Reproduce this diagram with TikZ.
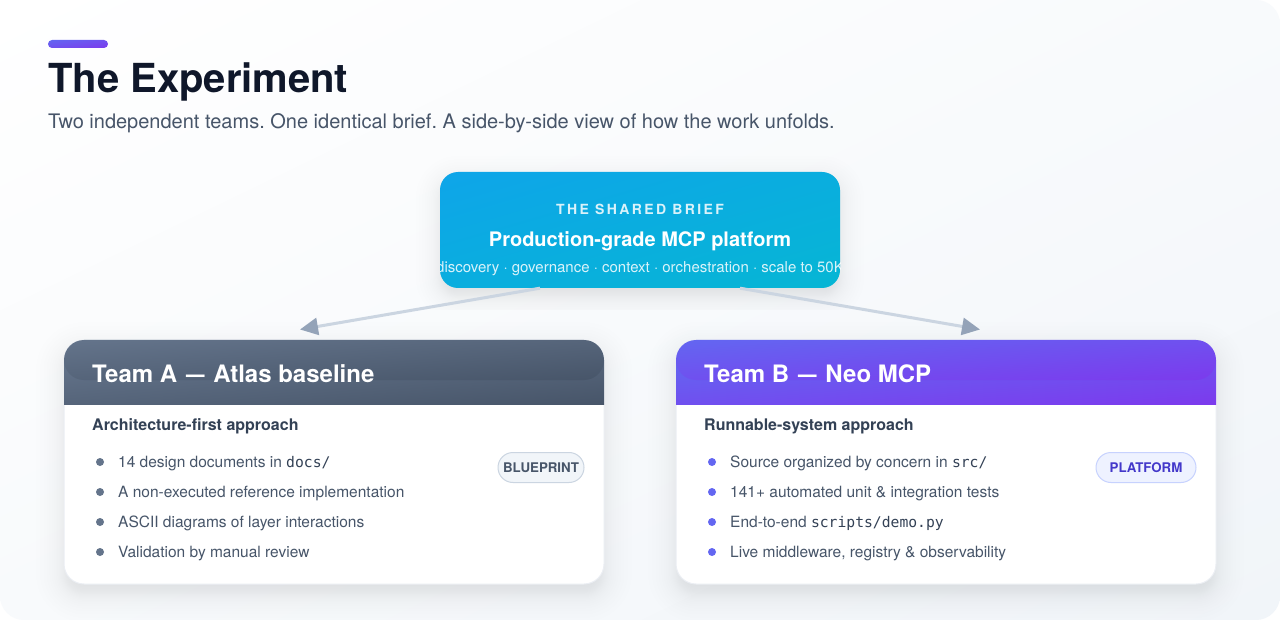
\documentclass[tikz,border=0pt]{standalone}
\usepackage{fontspec}
\usepackage{graphicx}
\setmainfont{TeX Gyre Heros}
\setmonofont{DejaVu Sans Mono}
\newfontfamily\spacedfont[LetterSpace=17]{TeX Gyre Heros}
\usetikzlibrary{arrows.meta,calc}
\frenchspacing
\definecolor{cbgA}{HTML}{FFFFFF}
\definecolor{cbgB}{HTML}{F1F5F9}
\definecolor{cinkA}{HTML}{0F172A}
\definecolor{cinkB}{HTML}{475569}
\definecolor{cinkC}{HTML}{334155}
\definecolor{cskyA}{HTML}{0EA5E9}
\definecolor{cskyB}{HTML}{06B6D4}
\definecolor{cslateA}{HTML}{64748B}
\definecolor{cslateB}{HTML}{475569}
\definecolor{cvioA}{HTML}{6366F1}
\definecolor{cvioB}{HTML}{7C3AED}
\definecolor{cline}{HTML}{CBD5E1}
\definecolor{ctip}{HTML}{94A3B8}
\definecolor{cedge}{HTML}{EBEEF3}
\definecolor{cbadgeA}{HTML}{F1F5F9}
\definecolor{cbadgeB}{HTML}{EEF2FF}
\definecolor{cbadgeBedge}{HTML}{C7D2FE}
\definecolor{cbadgeBtext}{HTML}{4338CA}
% shadings 150bp wide; the stops span the diagonal of a 100bp square turned by 45 degrees
\pgfdeclarehorizontalshading{gbg}{150bp}{color(0bp)=(cbgA); color(4.29bp)=(cbgA); color(145.71bp)=(cbgB); color(150bp)=(cbgB)}
\pgfdeclarehorizontalshading{gsky}{150bp}{color(0bp)=(cskyA); color(4.29bp)=(cskyA); color(145.71bp)=(cskyB); color(150bp)=(cskyB)}
\pgfdeclarehorizontalshading{gslate}{150bp}{color(0bp)=(cslateA); color(4.29bp)=(cslateA); color(145.71bp)=(cslateB); color(150bp)=(cslateB)}
\pgfdeclarehorizontalshading{gvio}{150bp}{color(0bp)=(cvioA); color(4.29bp)=(cvioA); color(145.71bp)=(cvioB); color(150bp)=(cvioB)}
% bounding-box diagonal gradient: x0,y0,x1,y1,radius,shading
\newcommand{\diagfill}[6]{%
  \begin{scope}
    \clip[rounded corners=#5pt] (#1,#2) rectangle (#3,#4);
    \pgfmathsetmacro{\cx}{(#1+#3)/2}%
    \pgfmathsetmacro{\cy}{(#2+#4)/2}%
    \pgfmathsetmacro{\sx}{(#3-#1)*0.0099626}%
    \pgfmathsetmacro{\sy}{(#4-#2)*0.0099626}%
    \pgftransformshift{\pgfpointxy{\cx}{\cy}}%
    \pgftransformxscale{\sx}%
    \pgftransformyscale{\sy}%
    \pgftransformrotate{-45}%
    \pgftext{\pgfuseshading{#6}}%
  \end{scope}%
}
% soft shadow: x0,y0,x1,y1,radius,spread,opacity per layer
\newcommand{\softshadow}[7]{%
  \foreach \k in {1,...,30}{%
    \pgfmathsetmacro{\tt}{1-2*(\k-0.5)/30}%
    \pgfmathsetmacro{\ee}{#6*(0.4*\tt+0.6*\tt*\tt*\tt)}%
    \pgfmathsetmacro{\rr}{max(#5+\ee,2)}%
    \fill[cinkA,opacity=#7,rounded corners=\rr pt]
      (#1-\ee,#2-\ee) rectangle (#3+\ee,#4+\ee);
  }%
}
\tikzset{
  titletext/.style={anchor=base west,inner sep=0,text=cinkA,font=\fontsize{40}{48}\selectfont\bfseries},
  subtext/.style={anchor=base west,inner sep=0,text=cinkB,font=\fontsize{20}{24}\selectfont},
  kicker/.style={anchor=base,inner sep=0,text=white,text opacity=.85,font=\fontsize{14}{17}\selectfont\bfseries\spacedfont},
  brieftitle/.style={anchor=base,inner sep=0,text=white,font=\fontsize{20}{24}\selectfont\bfseries},
  briefsub/.style={anchor=base,inner sep=0,text=white,text opacity=.85,font=\fontsize{15}{18}\selectfont},
  briefbox/.style={rounded corners=18pt,minimum width=400pt,minimum height=116pt,inner sep=0},
  cardbox/.style={fill=white,draw=cedge,line width=1pt,rounded corners=20pt,minimum width=540pt,minimum height=244pt,inner sep=0},
  teamtext/.style={anchor=base west,inner sep=0,text=white,font=\fontsize{24}{29}\selectfont\bfseries},
  headtext/.style={anchor=base west,inner sep=0,text=cinkC,font=\fontsize{16}{19}\selectfont\bfseries},
  itemtext/.style={anchor=base west,inner sep=0,text=cinkB,font=\fontsize{15.5}{18}\selectfont},
  dotA/.style={circle,fill=cslateA,minimum size=8pt,inner sep=0},
  dotB/.style={circle,fill=cvioA,minimum size=8pt,inner sep=0},
  badgeA/.style={draw=cline,fill=cbadgeA,line width=1pt,rounded corners=15pt,minimum width=86pt,minimum height=30pt,inner sep=0,text=cinkB,font=\fontsize{13.3}{16}\selectfont\bfseries},
  badgeB/.style={draw=cbadgeBedge,fill=cbadgeB,line width=1pt,rounded corners=15pt,minimum width=100pt,minimum height=30pt,inner sep=0,text=cbadgeBtext,font=\fontsize{13.3}{16}\selectfont\bfseries},
  linkline/.style={draw=cline,line width=3pt,-{Triangle[length=18pt,width=17pt,color=ctip]}},
}
\newcommand{\mytt}[1]{{\fontsize{14.7}{18}\selectfont\ttfamily\color{cinkC}#1}}
\newcommand{\teamdash}{\hspace{2.2pt}\scalebox{.77}[1]{—}\hspace{2.2pt}}
\begin{document}
\begin{tikzpicture}[x=1pt,y=-1pt]
\useasboundingbox (0,0) rectangle (1280,620);
\fill[white] (0,0) rectangle (1280,620);
\diagfill{0}{0}{1280}{620}{24}{gbg}
% heading
\diagfill{48}{40}{108}{48}{4}{gvio}
\node[titletext] (title) at (48,93) {The Experiment};
\node[subtext] (subtitle) at (48,128.5) {Two independent teams. One identical brief. A side-by-side view of how the work unfolds.};
% shadows
\begin{scope}
  \clip (0,0) rectangle (1280,310);
  \softshadow{440}{180}{840}{296}{18}{26}{0.0055}
\end{scope}
\softshadow{64}{350}{604}{594}{20}{30}{0.0055}
\softshadow{676}{350}{1216}{594}{20}{30}{0.0055}
% brief
\node[briefbox] (brief) at (640,230) {};
\diagfill{440}{172}{840}{288}{18}{gsky}
\node[kicker] (briefkicker) at (640,214.5) {THE SHARED BRIEF};
\node[brieftitle] (brieftitle) at (640,246.5) {Production-grade MCP platform};
\begin{scope}
  \clip[rounded corners=18pt] (440,172) rectangle (840,288);
  \node[briefsub] (briefline) at (640,272.5) {discovery · governance · context · orchestration · scale to 50K};
\end{scope}
% team A
\node[cardbox] (cardA) at (334,462) {};
\diagfill{64}{360}{604}{404}{0}{gslate}
\diagfill{64}{340}{604}{380}{20}{gslate}
\node[teamtext] (teamA) at (92,382) {Team A \teamdash{} Atlas baseline};
\node[headtext] (headA) at (92,430) {Architecture-first approach};
\node[badgeA] (badgeA) at (541,467.5) {BLUEPRINT};
\node[dotA] (dA1) at (100,462) {};
\node[dotA] (dA2) at (100,492) {};
\node[dotA] (dA3) at (100,522) {};
\node[dotA] (dA4) at (100,552) {};
\node[itemtext] (iA1) at (118,467) {14 design documents in \mytt{docs/}};
\node[itemtext] (iA2) at (118,497) {A non-executed reference implementation};
\node[itemtext] (iA3) at (118,527) {ASCII diagrams of layer interactions};
\node[itemtext] (iA4) at (118,557) {Validation by manual review};
% team B
\node[cardbox] (cardB) at (946,462) {};
\diagfill{676}{360}{1216}{404}{0}{gvio}
\diagfill{676}{340}{1216}{380}{20}{gvio}
\node[teamtext] (teamB) at (704,382) {Team B \teamdash{} Neo MCP};
\node[headtext] (headB) at (704,430) {Runnable-system approach};
\node[badgeB] (badgeB) at (1146,467.5) {PLATFORM};
\node[dotB] (dB1) at (712,462) {};
\node[dotB] (dB2) at (712,492) {};
\node[dotB] (dB3) at (712,522) {};
\node[dotB] (dB4) at (712,552) {};
\node[itemtext] (iB1) at (730,467) {Source organized by concern in \mytt{src/}};
\node[itemtext] (iB2) at (730,497) {141+ automated unit \& integration tests};
\node[itemtext] (iB3) at (730,527) {End-to-end \mytt{scripts/demo.py}};
\node[itemtext] (iB4) at (730,557) {Live middleware, registry \& observability};
% connectors
\coordinate (endA) at (300,329.5);
\coordinate (endB) at (980,329.5);
\draw[linkline] ([xshift=-100pt]brief.south) -- (endA);
\draw[linkline] ([xshift=100pt]brief.south) -- (endB);
\end{tikzpicture}
\end{document}
